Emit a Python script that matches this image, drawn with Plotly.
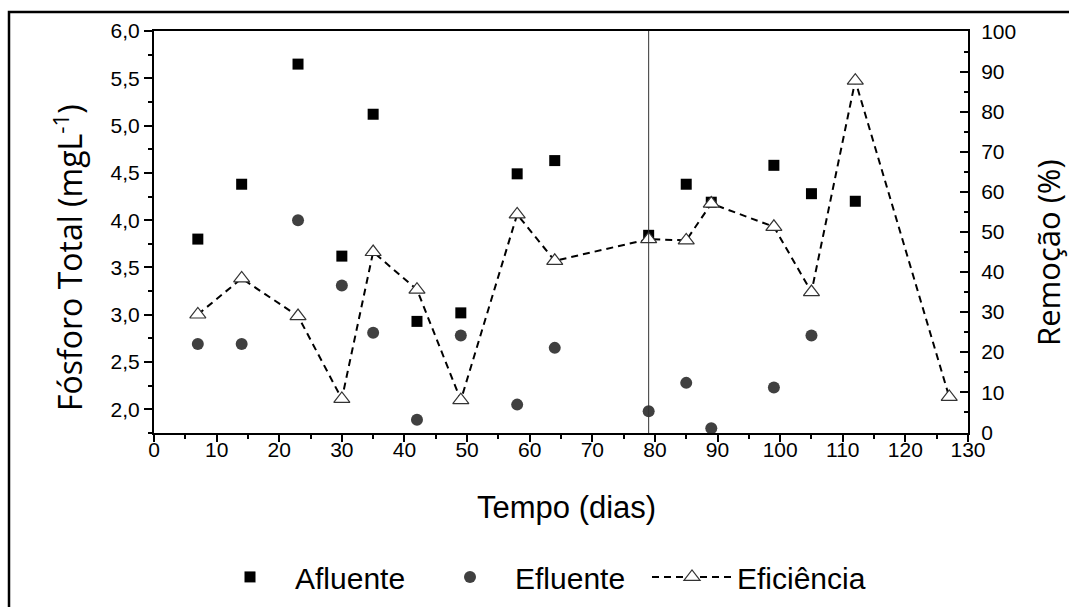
import plotly.graph_objects as go

# ---------------- data ----------------
dias_afluente = [7, 14, 23, 30, 35, 42, 49, 58, 64, 79, 85, 89, 99, 105, 112]
afluente = [3.80, 4.38, 5.65, 3.62, 5.12, 2.93, 3.02, 4.49, 4.63, 3.84, 4.38, 4.19, 4.58, 4.28, 4.20]

dias_efluente = [7, 14, 23, 30, 35, 42, 49, 58, 64, 79, 85, 89, 99, 105]
efluente = [2.69, 2.69, 4.00, 3.31, 2.81, 1.89, 2.78, 2.05, 2.65, 1.98, 2.28, 1.80, 2.23, 2.78]

dias_eficiencia = [7, 14, 23, 30, 35, 42, 49, 58, 64, 79, 85, 89, 99, 105, 112, 127]
eficiencia = [29.4, 38.4, 29.0, 8.3, 45.0, 35.6, 8.0, 54.4, 42.8, 48.2, 47.9, 57.1, 51.3, 35.0, 87.8, 8.8]

dia_divisao = 79

x_ticks = list(range(0, 131, 10))

# ---------------- figure ----------------
AX_FONT = dict(family="Liberation Sans, Arial, sans-serif", size=21, color="black")
TITLE_FONT = dict(family="Open Sans, Segoe UI, sans-serif", size=31, color="black")
ARIAL30 = dict(family="Liberation Sans, Arial, sans-serif", size=30, color="black")

fig = go.Figure()

fig.add_trace(go.Scatter(
    x=dias_afluente, y=afluente, mode="markers", name="Afluente",
    marker=dict(symbol="square", size=11, color="black"),
    legend="legend", yaxis="y",
))
fig.add_trace(go.Scatter(
    x=dias_efluente, y=efluente, mode="markers", name="Efluente",
    marker=dict(symbol="circle", size=12, color="#404040"),
    legend="legend2", yaxis="y",
))
fig.add_trace(go.Scatter(
    x=dias_eficiencia, y=eficiencia, mode="lines+markers", name="Eficiência",
    line=dict(color="black", width=2, dash="7px,5px"),
    marker=dict(symbol="triangle-up", size=14, color="white",
                line=dict(color="#333333", width=1.2)),
    legend="legend3", yaxis="y2",
))

fig.add_shape(type="line", xref="x", yref="paper", x0=dia_divisao, x1=dia_divisao,
              y0=0, y1=1, line=dict(color="#333333", width=1))

# outer frame
fig.add_shape(type="rect", xref="paper", yref="paper",
              x0=(9 - 154) / 814, x1=1.2, y0=-0.6, y1=(433 - 12) / 402,
              line=dict(color="black", width=2.5), fillcolor="rgba(0,0,0,0)", layer="below")

leg_common = dict(orientation="h", yanchor="middle", xanchor="left", y=-0.358,
                  font=ARIAL30, itemwidth=80, bgcolor="rgba(0,0,0,0)", borderwidth=0)

fig.update_layout(
    width=1069, height=607,
    margin=dict(l=154, r=101, t=31, b=174, autoexpand=False),
    paper_bgcolor="white", plot_bgcolor="white",
    separators=",.",
    showlegend=True,
    legend=dict(x=(205 - 154) / 814, **leg_common),
    legend2=dict(x=(425 - 154) / 814, **leg_common),
    legend3=dict(x=(647 - 154) / 814, **leg_common),
    xaxis=dict(
        range=[0, 130], tickmode="array", tickvals=x_ticks,
        ticks="outside", ticklen=7, tickwidth=1.5, tickcolor="black",
        minor=dict(dtick=5, ticks="outside", ticklen=4, tickwidth=1.5, tickcolor="black"),
        showline=True, linecolor="black", linewidth=2, mirror=True,
        showgrid=False, zeroline=False, tickfont=AX_FONT, ticklabelstandoff=-10,
    ),
    yaxis=dict(
        range=[1.75, 6.0], tick0=0, dtick=0.5, tickformat=".1f",
        ticks="outside", ticklen=8, tickwidth=1.5, tickcolor="black",
        minor=dict(dtick=0.25, ticks="outside", ticklen=4, tickwidth=1.5, tickcolor="black"),
        showline=True, linecolor="black", linewidth=2,
        showgrid=False, zeroline=False, tickfont=AX_FONT,
    ),
    yaxis2=dict(
        range=[-0.2, 100.2], tick0=0, dtick=10, overlaying="y", side="right",
        ticks="inside", ticklen=8, tickwidth=1.5, tickcolor="black",
        minor=dict(dtick=5, ticks="inside", ticklen=4, tickwidth=1.5, tickcolor="black"),
        showline=True, linecolor="black", linewidth=2,
        showgrid=False, zeroline=False, tickfont=AX_FONT, ticklabelstandoff=7,
    ),
    annotations=[
        dict(text="Fósforo Total (mgL<sup>-1</sup>)", xref="paper", yref="paper",
             x=(68 - 154) / 814, y=(433 - 258) / 402, textangle=-90, showarrow=False,
             xanchor="center", yanchor="middle",
             font=dict(family="Open Sans, Segoe UI, sans-serif", size=32, color="black")),
        dict(text="Remoção (%)", xref="paper", yref="paper",
             x=(1048 - 154) / 814, y=(433 - 253) / 402, textangle=-90, showarrow=False,
             xanchor="center", yanchor="middle", font=TITLE_FONT),
        dict(text="Tempo (dias)", xref="paper", yref="paper",
             x=(566 - 154) / 814, y=(433 - 507) / 402, showarrow=False,
             xanchor="center", yanchor="middle",
             font=dict(family="Liberation Sans, Arial, sans-serif", size=31, color="black")),
    ],
)

fig.write_html("out.html", config={"displayModeBar": False},
               post_script="document.body.style.margin='0';document.body.style.overflow='hidden';")
